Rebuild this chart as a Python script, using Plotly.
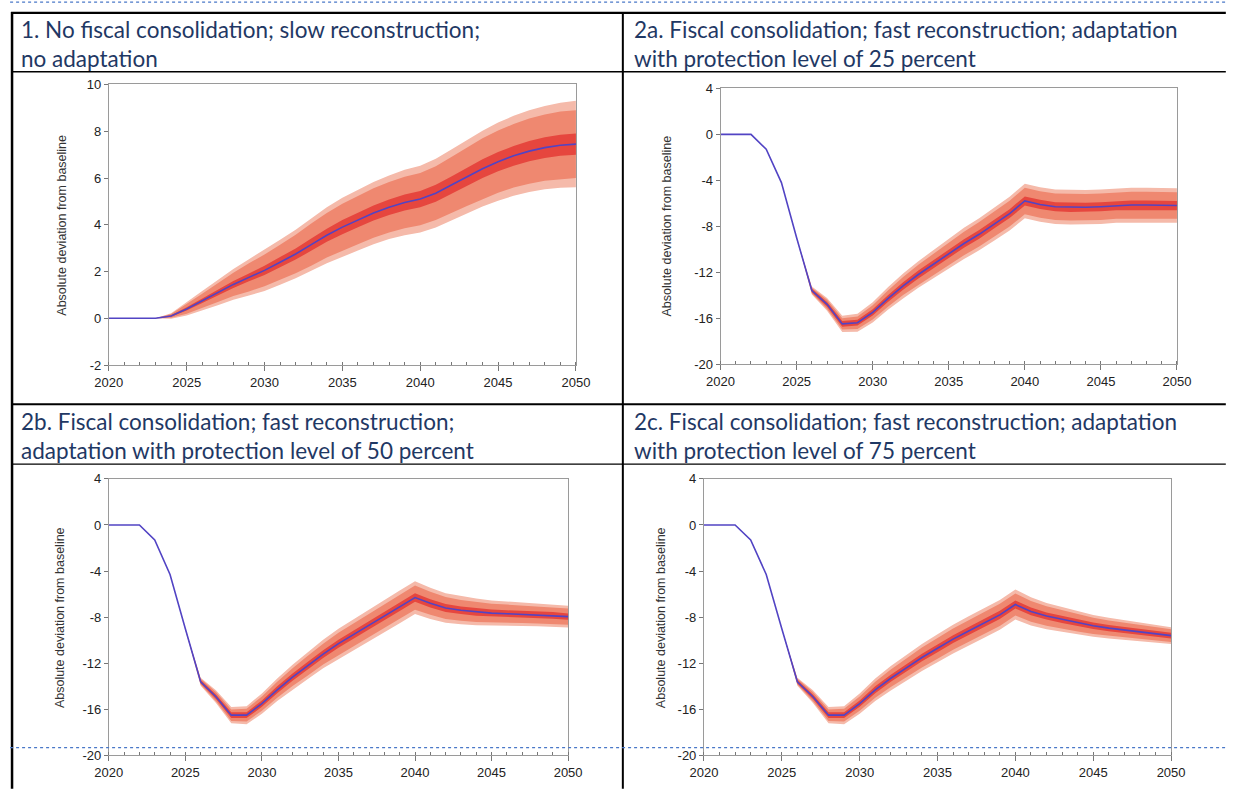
import plotly.graph_objects as go

# The page adds a body margin; figure is sized/offset so it lands on the window grid.
OFFX, OFFY = 12, 8
W, H = 1248 - 16, 805 - 16

years = list(range(2020, 2051))

# Panel 1: no fiscal consolidation; slow reconstruction; no adaptation
p1_median = [0, 0, 0, 0, 0.1, 0.4, 0.75, 1.1, 1.45, 1.75, 2.05, 2.4, 2.75, 3.15, 3.55, 3.9,
             4.2, 4.5, 4.75, 4.95, 5.1, 5.35, 5.7, 6.05, 6.4, 6.7, 6.95, 7.15, 7.3, 7.4, 7.45]
p1_inner = [0, 0, 0, 0, 0.03, 0.07, 0.1, 0.12, 0.15, 0.17, 0.2, 0.22, 0.24, 0.26, 0.28, 0.3,
            0.31, 0.32, 0.33, 0.34, 0.35, 0.36, 0.37, 0.38, 0.4, 0.41, 0.42, 0.43, 0.44, 0.45, 0.45]
p1_mid = [0, 0, 0, 0, 0.08, 0.2, 0.3, 0.4, 0.5, 0.6, 0.68, 0.75, 0.82, 0.9, 0.95, 1.0,
          1.03, 1.06, 1.08, 1.1, 1.12, 1.15, 1.2, 1.25, 1.3, 1.33, 1.36, 1.4, 1.42, 1.45, 1.45]
p1_outer = [0, 0, 0, 0, 0.12, 0.28, 0.42, 0.54, 0.66, 0.78, 0.88, 0.96, 1.04, 1.12, 1.2, 1.26,
            1.3, 1.33, 1.36, 1.4, 1.43, 1.47, 1.52, 1.57, 1.62, 1.67, 1.71, 1.75, 1.78, 1.82, 1.85]

# Panel 2a: protection level 25 percent
p2a_median = [0, 0, 0, -1.3, -4.2, -9.0, -13.6, -14.8, -16.5, -16.4, -15.5, -14.3, -13.2, -12.2,
              -11.3, -10.4, -9.5, -8.7, -7.8, -6.9, -5.8, -6.1, -6.3, -6.35, -6.35, -6.3, -6.2,
              -6.15, -6.15, -6.2, -6.2]
p2a_inner = [0, 0, 0, 0, 0, 0, 0.15, 0.2, 0.25, 0.25, 0.28, 0.3, 0.32, 0.34, 0.35, 0.36, 0.37,
             0.38, 0.38, 0.39, 0.4, 0.4, 0.4, 0.4, 0.4, 0.4, 0.4, 0.4, 0.4, 0.4, 0.4]
p2a_mid = [0, 0, 0, 0, 0, 0, 0.25, 0.4, 0.5, 0.55, 0.62, 0.7, 0.78, 0.85, 0.92, 0.98, 1.02,
           1.06, 1.1, 1.13, 1.15, 1.15, 1.15, 1.15, 1.15, 1.15, 1.15, 1.15, 1.15, 1.15, 1.15]
p2a_outer = [0, 0, 0, 0, 0, 0, 0.35, 0.55, 0.7, 0.78, 0.88, 0.98, 1.08, 1.16, 1.24, 1.3, 1.36,
             1.4, 1.44, 1.47, 1.5, 1.5, 1.5, 1.5, 1.5, 1.5, 1.5, 1.5, 1.5, 1.5, 1.5]

# Panel 2b: protection level 50 percent
p2b_median = [0, 0, 0, -1.3, -4.3, -9.0, -13.6, -14.9, -16.5, -16.5, -15.5, -14.3, -13.2, -12.2,
              -11.2, -10.3, -9.5, -8.7, -7.9, -7.1, -6.3, -6.8, -7.2, -7.4, -7.55, -7.65, -7.7,
              -7.75, -7.8, -7.85, -7.95]
p2b_inner = [0, 0, 0, 0, 0, 0, 0.15, 0.2, 0.25, 0.25, 0.28, 0.3, 0.32, 0.33, 0.34, 0.35, 0.35,
             0.36, 0.36, 0.37, 0.37, 0.35, 0.34, 0.33, 0.32, 0.31, 0.3, 0.3, 0.29, 0.29, 0.28]
p2b_mid = [0, 0, 0, 0, 0, 0, 0.25, 0.4, 0.5, 0.55, 0.62, 0.7, 0.78, 0.85, 0.9, 0.95, 0.98,
           1.0, 1.02, 1.04, 1.05, 1.0, 0.95, 0.9, 0.86, 0.82, 0.79, 0.76, 0.74, 0.72, 0.7]
p2b_outer = [0, 0, 0, 0, 0, 0, 0.35, 0.55, 0.7, 0.78, 0.88, 0.98, 1.08, 1.16, 1.24, 1.3, 1.34,
             1.37, 1.4, 1.42, 1.42, 1.35, 1.28, 1.22, 1.16, 1.1, 1.06, 1.02, 0.99, 0.96, 0.94]

# Panel 2c: protection level 75 percent
p2c_median = [0, 0, 0, -1.3, -4.3, -9.0, -13.6, -14.9, -16.5, -16.5, -15.5, -14.3, -13.3, -12.4,
              -11.5, -10.7, -9.9, -9.2, -8.5, -7.8, -6.9, -7.5, -7.9, -8.2, -8.5, -8.75, -8.95,
              -9.1, -9.25, -9.45, -9.6]
p2c_inner = [0, 0, 0, 0, 0, 0, 0.15, 0.2, 0.25, 0.25, 0.28, 0.3, 0.31, 0.32, 0.33, 0.34, 0.34,
             0.35, 0.35, 0.35, 0.35, 0.33, 0.31, 0.3, 0.29, 0.28, 0.27, 0.26, 0.25, 0.25, 0.24]
p2c_mid = [0, 0, 0, 0, 0, 0, 0.25, 0.4, 0.5, 0.55, 0.62, 0.7, 0.76, 0.82, 0.86, 0.9, 0.92,
           0.94, 0.95, 0.96, 0.96, 0.9, 0.85, 0.8, 0.75, 0.71, 0.67, 0.63, 0.6, 0.57, 0.55]
p2c_outer = [0, 0, 0, 0, 0, 0, 0.35, 0.55, 0.7, 0.78, 0.88, 0.98, 1.06, 1.12, 1.18, 1.22, 1.25,
             1.27, 1.28, 1.29, 1.3, 1.22, 1.14, 1.07, 1.0, 0.94, 0.89, 0.84, 0.8, 0.76, 0.72]

titles = [
    ["1. No fiscal consolidation; slow reconstruction;", "no adaptation"],
    ["2a. Fiscal consolidation; fast reconstruction; adaptation", "with protection level of 25 percent"],
    ["2b. Fiscal consolidation; fast reconstruction;", "adaptation with protection level of 50 percent"],
    ["2c. Fiscal consolidation; fast reconstruction; adaptation", "with protection level of 75 percent"],
]
y_title = "Absolute deviation from baseline"
y_ranges = [[-2, 10], [-20, 4], [-20, 4], [-20, 4]]
p1_yticks = [-2, 0, 2, 4, 6, 8, 10]
p1_yticklabels = ["-2", "0", "2", "4", "6", "8", "10"]
p2_yticks = [-20, -16, -12, -8, -4, 0, 4]
p2_yticklabels = ["-20", "-16", "-12", "-8", "-4", "0", "4"]
x_ticks = [2020, 2025, 2030, 2035, 2040, 2045, 2050]

panels = [
    (p1_median, p1_inner, p1_mid, p1_outer),
    (p2a_median, p2a_inner, p2a_mid, p2a_outer),
    (p2b_median, p2b_inner, p2b_mid, p2b_outer),
    (p2c_median, p2c_inner, p2c_mid, p2c_outer),
]
yticks = [(p1_yticks, p1_yticklabels)] + [(p2_yticks, p2_yticklabels)] * 3

# window-pixel layout of each plot area: (left, right, top, bottom)
boxes = [(109, 587, 87, 373), (735, 1202, 91, 372), (109, 579, 489, 771), (718, 1196, 489, 771)]
ytitle_pos = [(61, 230), (680, 231), (59, 630), (674, 630)]
title_pos = [(17, 31, 60), (644, 31, 60), (17, 431, 460), (644, 431, 460)]

C_OUTER = "rgb(245,186,170)"
C_MID = "rgb(239,136,112)"
C_INNER = "rgb(230,70,62)"
C_LINE = "rgb(82,68,196)"


def px(x):
    return (x - OFFX) / W


def py(y):
    return 1 - (y - OFFY) / H


fig = go.Figure()

for i, (med, inn, mid, out) in enumerate(panels):
    xa = "x" if i == 0 else f"x{i+1}"
    ya = "y" if i == 0 else f"y{i+1}"
    for w, col in [(out, C_OUTER), (mid, C_MID), (inn, C_INNER)]:
        hi = [m + d for m, d in zip(med, w)]
        lo = [m - d for m, d in zip(med, w)]
        fig.add_trace(go.Scatter(
            x=years + years[::-1], y=hi + lo[::-1], fill="toself", fillcolor=col,
            line=dict(width=0), mode="lines", hoverinfo="skip", showlegend=False,
            xaxis=xa, yaxis=ya))
    fig.add_trace(go.Scatter(x=years, y=med, mode="lines", line=dict(color=C_LINE, width=1.6),
                             showlegend=False, xaxis=xa, yaxis=ya))

    l, r, t, b = boxes[i]
    ax_common = dict(showline=True, linecolor="#9a9a9a", linewidth=1, mirror=True,
                     showgrid=False, zeroline=False,
                     tickfont=dict(family="Arial, Liberation Sans", size=13, color="#222"),
                     tickcolor="#777")
    xkey = "xaxis" if i == 0 else f"xaxis{i+1}"
    ykey = "yaxis" if i == 0 else f"yaxis{i+1}"
    fig.layout[xkey] = dict(
        domain=[px(l), px(r)], anchor=ya, range=[2020, 2050], tickvals=x_ticks,
        ticks="outside", ticklen=5,
        minor=dict(dtick=1, tick0=2020, ticks="inside", ticklen=3, tickcolor="#777"),
        **ax_common)
    tv, tt = yticks[i]
    fig.layout[ykey] = dict(
        domain=[py(b), py(t)], anchor=xa, range=y_ranges[i], tickvals=tv, ticktext=tt,
        ticks="outside", ticklen=4, **ax_common)

annotations = []
for i in range(4):
    x0, y1, y2 = title_pos[i]
    for txt, yy in zip(titles[i], (y1, y2)):
        annotations.append(dict(text=txt, x=px(x0), y=py(yy), xref="paper", yref="paper",
                                xanchor="left", yanchor="middle", showarrow=False,
                                font=dict(family="Lato", size=22.5, color="#1f3864")))
    tx, ty = ytitle_pos[i]
    annotations.append(dict(text=y_title, x=px(tx), y=py(ty), xref="paper", yref="paper",
                            xanchor="center", yanchor="middle", textangle=-90, showarrow=False,
                            font=dict(family="Arial, Liberation Sans", size=12.5, color="#333")))


def hline(y, x0, x1, w, color="black", dash=None):
    return dict(type="line", xref="paper", yref="paper", x0=px(x0), x1=px(x1),
                y0=py(y), y1=py(y), line=dict(color=color, width=w, dash=dash))


def vline(x, y0, y1, w, color="black"):
    return dict(type="line", xref="paper", yref="paper", x0=px(x), x1=px(x),
                y0=py(y0), y1=py(y1), line=dict(color=color, width=w))


shapes = [
    hline(14, 9, 1252, 2.2),
    hline(74, 10, 1252, 1.3),
    hline(413, 10, 1252, 2),
    hline(474, 10, 1252, 1.3),
    vline(10, 13, 805, 2.5),
    vline(635, 13, 805, 2),
    hline(3, 8, 1252, 1.3, color="#4a78c8", dash="dot"),
    hline(763, 8, 1252, 1.3, color="#4a78c8", dash="dot"),
]

fig.update_layout(
    width=W, height=H, margin=dict(l=0, r=0, t=0, b=0),
    paper_bgcolor="white", plot_bgcolor="white",
    annotations=annotations, shapes=shapes, showlegend=False,
)

fig.write_html("out.html")
